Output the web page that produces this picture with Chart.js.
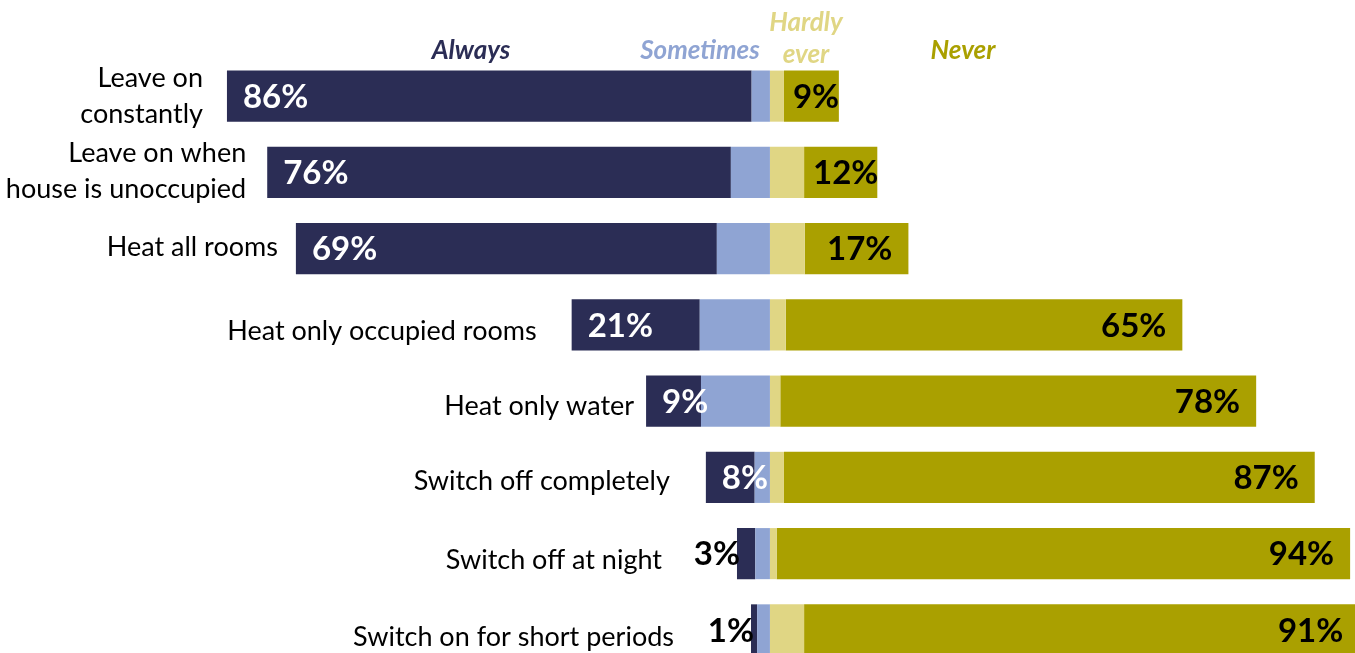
<!DOCTYPE html>
<html>
<head>
<meta charset="utf-8">
<script src="https://cdn.jsdelivr.net/npm/chart.js@4/dist/chart.umd.min.js"></script>
<style>
  html, body { margin: 0; padding: 0; background: #fff; overflow: hidden; }
  #chart { display: block; }
</style>
</head>
<body>
<canvas id="chart" width="1355" height="680"></canvas>
<script>
// heating habits, share of households per answer
const categories = [
  ['Leave on', 'constantly'],
  ['Leave on when', 'house is unoccupied'],
  ['Heat all rooms'],
  ['Heat only occupied rooms'],
  ['Heat only water'],
  ['Switch off completely'],
  ['Switch off at night'],
  ['Switch on for short periods'],
];
const always = [86, 76, 69, 21, 9, 8, 3, 1];
const sometimes = [3, 6.4, 8.7, 11.5, 11.3, 2.5, 2.4, 2.1];
const hardlyEver = [2.3, 5.6, 5.7, 2.6, 1.7, 2.3, 1.1, 5.6];
const never = [9, 12, 17, 65, 78, 87, 94, 91];

const colors = {
  always: '#2b2d55',
  sometimes: '#8fa4d3',
  hardlyEver: '#e0d684',
  never: '#aaa000',
};

// layout: gap between name and bar, and vertical nudge of each name
const labelGap = [24, 21, 18, 35, 12, 36, 75, 77];
const labelShift = [0, -1, -1, 6, 5, 4, 7, 7];
const catFont = '27px Lato';
const lineHeight = 36;
const valueFont = 'bold 33px Lato';
const legendFont = 'italic bold 26px Lato';

const labelPlugin = {
  id: 'rowLabels',
  afterDatasetsDraw(chart) {
    const ctx = chart.ctx;
    const alwaysMeta = chart.getDatasetMeta(1);
    const neverMeta = chart.getDatasetMeta(3);
    ctx.save();
    ctx.textBaseline = 'middle';

    categories.forEach((lines, i) => {
      const a = alwaysMeta.data[i];
      const n = neverMeta.data[i];
      const left = Math.min(a.x, a.base);
      const y = a.y;

      // category name sits just left of the bar
      ctx.font = catFont;
      ctx.fillStyle = '#000';
      ctx.textAlign = 'right';
      const top = y - ((lines.length - 1) * lineHeight) / 2 + labelShift[i];
      lines.forEach((t, k) => ctx.fillText(t, left - labelGap[i], top + k * lineHeight));

      // "Always" value: inside when it fits, outside otherwise
      ctx.font = valueFont;
      const aText = always[i] + '%';
      if (always[i] >= 5) {
        ctx.fillStyle = '#fff';
        ctx.textAlign = 'left';
        ctx.fillText(aText, left + 16, y + 1);
      } else {
        ctx.fillStyle = '#000';
        ctx.textAlign = 'right';
        ctx.fillText(aText, left + 3, y + 1);
      }

      // "Never" value at the right end
      const nText = never[i] + '%';
      const w = ctx.measureText(nText).width;
      const right = Math.max(n.x - 16, n.base + 9 + w);
      ctx.fillStyle = '#000';
      ctx.textAlign = 'right';
      ctx.fillText(nText, right, y + 1);
    });

    // legend as coloured headings above the bars
    ctx.font = legendFont;
    ctx.textAlign = 'center';
    ctx.textBaseline = 'alphabetic';
    ctx.fillStyle = colors.always;
    ctx.fillText('Always', 471, 59);
    ctx.fillStyle = colors.sometimes;
    ctx.fillText('Sometimes', 700, 59);
    ctx.fillStyle = colors.hardlyEver;
    ctx.fillText('Hardly', 806, 31);
    ctx.fillText('ever', 806, 63);
    ctx.fillStyle = colors.never;
    ctx.fillText('Never', 963, 59);
    ctx.restore();
  },
};

// negative side stacks outward from zero: Sometimes first, then Always
const datasets = [
  { label: 'Sometimes', data: sometimes.map((v) => -v), backgroundColor: colors.sometimes },
  { label: 'Always', data: always.map((v) => -v), backgroundColor: colors.always },
  { label: 'Hardly ever', data: hardlyEver, backgroundColor: colors.hardlyEver },
  { label: 'Never', data: never, backgroundColor: colors.never },
];

new Chart(document.getElementById('chart'), {
  type: 'bar',
  data: {
    labels: categories.map((c) => c.join(' ')),
    datasets: datasets,
  },
  options: {
    indexAxis: 'y',
    responsive: false,
    animation: false,
    devicePixelRatio: 1,
    categoryPercentage: 1.0,
    barPercentage: 0.67,
    borderWidth: 0,
    layout: {
      padding: { top: 58, bottom: 12, left: 0, right: 0 },
    },
    scales: {
      x: {
        stacked: true,
        display: false,
        min: -126.2,
        max: 95.9,
      },
      y: {
        stacked: true,
        display: false,
      },
    },
    plugins: {
      legend: { display: false },
      tooltip: { enabled: false },
    },
  },
  plugins: [labelPlugin],
});
</script>
</body>
</html>
